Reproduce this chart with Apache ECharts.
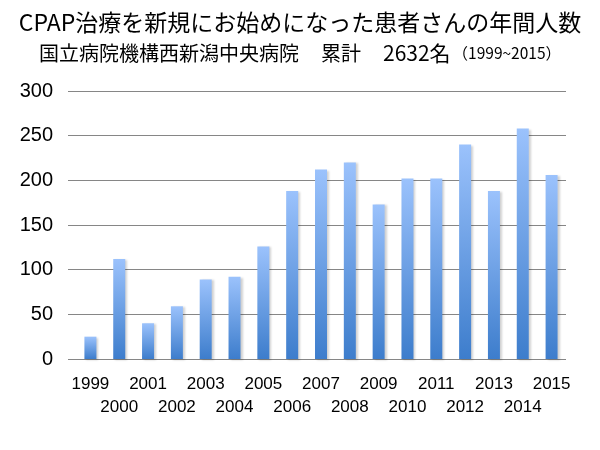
<!DOCTYPE html>
<html><head><meta charset="utf-8">
<script src="https://cdn.jsdelivr.net/npm/echarts@6/dist/echarts.min.js"></script>
<style>html,body{margin:0;padding:0;background:#fff}#c{width:600px;height:450px}</style>
</head><body><div id="c"></div>
<script>
const titleText = 'CPAP治療を新規にお始めになった患者さんの年間人数';
const subtitleHospital = '国立病院機構西新潟中央病院';
const subtitleLabel = '累計';
const subtitleTotal = '2632名';
const subtitleRange = '（1999~2015）';
const years = ['1999','2000','2001','2002','2003','2004','2005','2006','2007','2008','2009','2010','2011','2012','2013','2014','2015'];
const patients = [25,112,40,59,89,92,126,188,212,220,173,202,202,240,188,258,206];
const yTicks = {min:0, max:300, interval:50};

const chart = echarts.init(document.getElementById('c'));
const latin = '"Liberation Sans", "DejaVu Sans", sans-serif';
const cjk = '"Noto Sans CJK JP", sans-serif';
chart.setOption({
  animation:false,
  title:[
    {text:titleText, left:'center', top:6, textStyle:{fontFamily:cjk, fontSize:23, fontWeight:'normal', color:'#000'}},
    {text:'{a|'+subtitleHospital+'}{a|'+subtitleLabel+'}{b|'+subtitleTotal+'}{c|'+subtitleRange+'}', left:'center', top:38,
     textStyle:{fontWeight:'normal', rich:{
       a:{fontFamily:cjk, fontSize:20, fontWeight:'normal', color:'#000', padding:[0,22,0,0]},
       b:{fontFamily:cjk, fontSize:21, fontWeight:'normal', color:'#000'},
       c:{fontFamily:cjk, fontSize:15.5, fontWeight:'normal', color:'#000', padding:[0,0,0,2]}
     }}}
  ],
  grid:[
    {left:68, right:34, top:91, bottom:91},
    {left:76, right:34, top:91, bottom:91}
  ],
  xAxis:[
    {gridIndex:0, type:'category', data:years, show:false},
    {gridIndex:1, type:'category', data:years,
     axisLine:{show:false}, axisTick:{show:false},
     axisLabel:{interval:0, margin:14, fontFamily:latin, fontSize:17, color:'#000', lineHeight:23,
       formatter:(v,i)=> i%2===1 ? '\n'+v : v}}
  ],
  yAxis:[
    {gridIndex:0, type:'value', min:yTicks.min, max:yTicks.max, interval:yTicks.interval,
     axisLine:{show:false}, axisTick:{show:false},
     axisLabel:{margin:15, fontFamily:latin, fontSize:20, color:'#000'},
     splitLine:{lineStyle:{color:'#868686', width:1}}},
    {gridIndex:1, type:'value', min:yTicks.min, max:yTicks.max, interval:yTicks.interval, show:false, splitLine:{show:false}}
  ],
  series:[{
    type:'bar', xAxisIndex:1, yAxisIndex:1, data:patients, barWidth:12,
    itemStyle:{
      color:new echarts.graphic.LinearGradient(0,0,0,1,[{offset:0,color:'#9bc2fc'},{offset:1,color:'#3d7dcc'}]),
      shadowColor:'rgba(0,0,0,0.18)', shadowBlur:2, shadowOffsetX:2, shadowOffsetY:1
    }
  }]
});
</script></body></html>
